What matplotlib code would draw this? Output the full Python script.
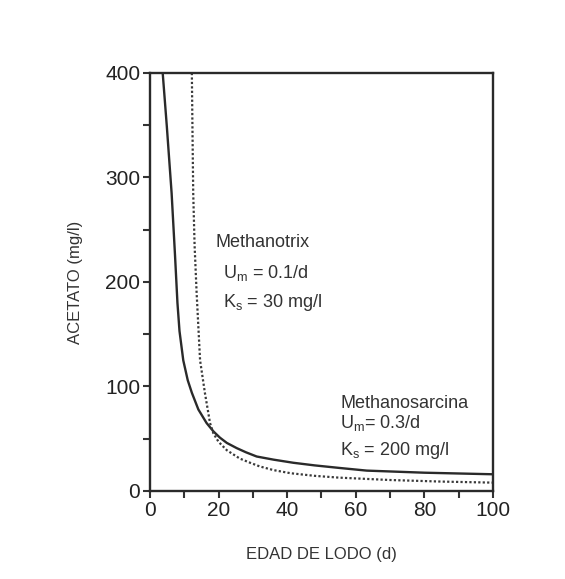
import matplotlib
matplotlib.use("Agg")
import matplotlib.pyplot as plt
from matplotlib.ticker import MultipleLocator

plt.rcParams['font.family'] = ['Liberation Sans', 'DejaVu Sans']

# Methanosarcina (linea continua)
sarcina_x = [3.7, 4.9, 6.3, 7.3, 8.0, 8.6, 9.7, 11.0, 12.2, 14.1, 16.5, 18.5,
             20.4, 22.4, 25.3, 28.0, 31.1, 36.0, 41.8, 48.0, 55.4, 63.2, 80.0,
             100.0]
sarcina_y = [400, 349, 285, 225, 180, 153, 125, 106, 94, 78, 65, 57,
             51, 46, 41, 37, 33, 30, 27, 24.5, 22, 19.5, 17.5,
             16]

# Methanotrix (linea punteada)
trix_x = [12.2, 12.4, 12.6, 13.0, 13.6, 14.6, 16.0, 17.5, 18.5, 20.0, 22.4,
          26.2, 29.2, 32.0, 36.0, 41.0, 48.0, 55.0, 70.0, 85.0, 100.0]
trix_y = [400, 340, 285, 235, 189, 125, 94, 65, 55, 47, 39,
          31, 27, 23.5, 20, 17, 14.5, 12.8, 10.5, 9, 8]

fig = plt.figure(figsize=(5.65, 5.79), dpi=100)
ax = fig.add_axes([0.2655, 0.152, 0.607, 0.722])

ax.plot(sarcina_x, sarcina_y, color='#2a2a2a', lw=1.7)
ax.plot(trix_x, trix_y, color='#3a3a3a', lw=1.6, linestyle=(0, (1, 1)))

ax.set_xlim(0, 100)
ax.set_ylim(0, 400)
ax.xaxis.set_major_locator(MultipleLocator(20))
ax.xaxis.set_minor_locator(MultipleLocator(10))
ax.yaxis.set_major_locator(MultipleLocator(100))
ax.yaxis.set_minor_locator(MultipleLocator(50))
ax.tick_params(which='both', direction='out', length=5, width=1.5,
               color='#333333', labelsize=15, labelcolor='#222222')
ax.tick_params(axis='x', pad=2)
ax.tick_params(axis='y', pad=2)
for s in ax.spines.values():
    s.set_linewidth(1.7)
    s.set_color('#2a2a2a')

lab_font = ['Liberation Sans Narrow', 'Liberation Sans', 'DejaVu Sans']
ax.set_xlabel('EDAD DE LODO (d)', fontsize=12, family=lab_font,
              color='#333333', labelpad=20)
ax.set_ylabel('ACETATO (mg/l)', fontsize=12, family=lab_font,
              color='#333333', labelpad=16)

txt = dict(fontsize=13, color='#333333', va='baseline')
ax.text(19, 233.5, 'Methanotrix', **txt)
ax.text(21.3, 204, r'$\mathregular{U_m}$ = 0.1/d', **txt)
ax.text(21.3, 176, r'$\mathregular{K_s}$ = 30 mg/l', **txt)
ax.text(55.4, 79.4, 'Methanosarcina', **txt)
ax.text(55.4, 60, r'$\mathregular{U_m}$= 0.3/d', **txt)
ax.text(55.4, 34.5, r'$\mathregular{K_s}$ = 200 mg/l', **txt)

fig.savefig('out.png', dpi=100)
